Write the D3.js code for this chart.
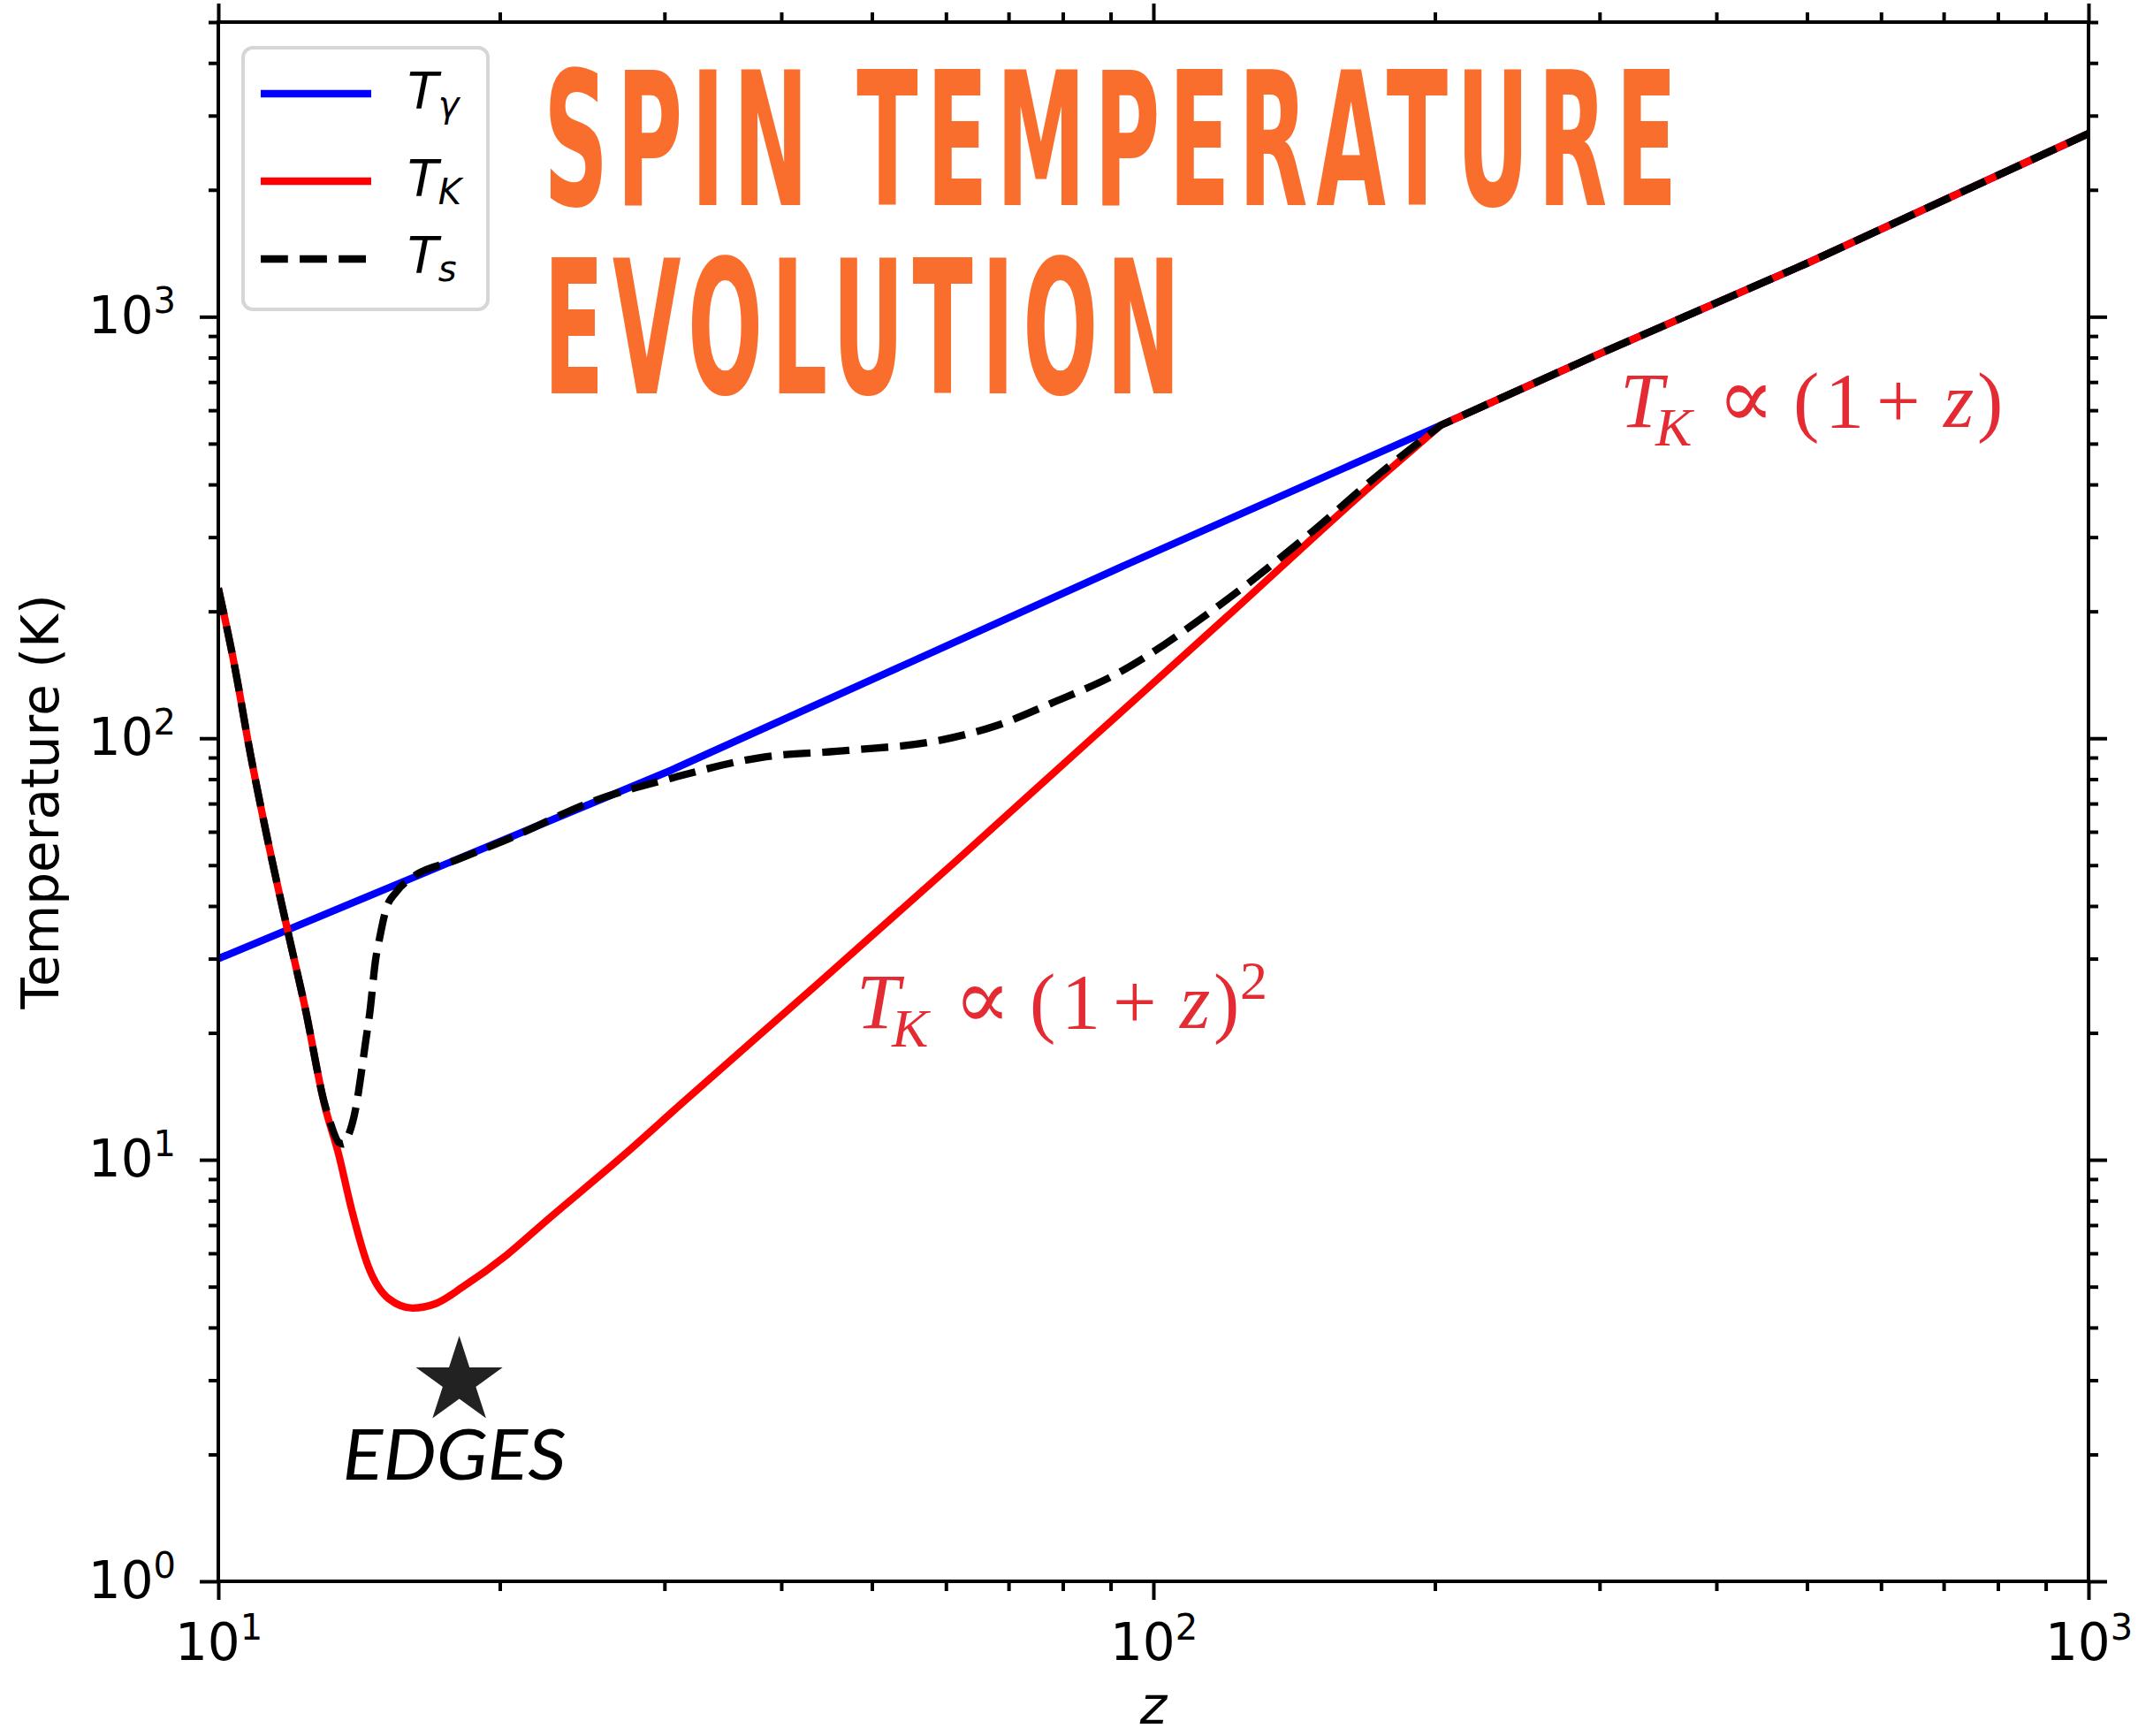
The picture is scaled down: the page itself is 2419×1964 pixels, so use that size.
<!DOCTYPE html>
<html lang="en">
<head>
<meta charset="UTF-8">
<script src="https://d3js.org/d3.v7.min.js"></script>
<style>
  body { margin: 0; background: #fff; }
  svg { display: block; }
</style>
</head>
<body>
<script>
  // values (z, temperature in K)
  const zGamma = [10, 30.5, 94.6, 203, 300, 500, 1000];
  const tGamma = [30, 84, 261, 553, 817, 1339, 2720];

  const zKin = [10, 10.4, 10.82, 11.3, 11.85, 12.38, 12.99, 13.45, 13.87, 14.47, 15.22, 16.13,
    17.09, 18.25, 20.35, 22.4, 27.2, 31.3, 43.8, 61.3, 85.7, 119.9, 167.7, 203, 300, 500, 1000];
  const tKin = [227, 150, 92, 57, 35.3, 23, 13.5, 10.3, 7.7, 5.58, 4.68, 4.45,
    4.56, 4.99, 5.95, 7.15, 10.3, 13.6, 26.2, 50.8, 99.4, 194.5, 383, 553, 817, 1339, 2720];

  const zSpin = [10, 10.4, 10.82, 11.3, 11.85, 12.38, 12.99, 13.2, 13.45, 13.6, 13.77, 14.05,
    14.21, 14.37, 14.52, 14.73, 14.89, 15.11, 15.5, 16.13, 18, 20.35, 25.3, 30.5, 38, 47.2,
    58.7, 67.8, 78.4, 90.7, 117.7, 146.3, 175.4, 203, 300, 500, 1000];
  const tSpin = [227, 150, 92, 57, 35.3, 23, 13.6, 12.1, 11.0, 10.9, 11.4, 13.5,
    15.9, 19.0, 22.3, 29.8, 33.9, 39.2, 43.2, 46.8, 51.5, 57.5, 71.2, 80.4, 90, 93.6,
    98.6, 107, 122, 141, 207, 303, 428, 553, 817, 1339, 2720];

  // redshift where T_K rejoins T_gamma
  const zJoin = 203;

  // EDGES point
  const edgesZ = 18.1;
  const edgesT = 2.98;

  const seriesSubs = ["γ", "K", "s"];
  const seriesColors = ["#0000ff", "#ff0000", "#000000"];

  const xMajor = [10, 100, 1000];
  const xMinor = [20, 30, 40, 50, 60, 70, 80, 90, 200, 300, 400, 500, 600, 700, 800, 900];
  const yMajor = [1, 10, 100, 1000];
  const yMinor = [2, 3, 4, 5, 6, 7, 8, 9, 20, 30, 40, 50, 60, 70, 80, 90,
    200, 300, 400, 500, 600, 700, 800, 900, 2000, 3000, 4000, 5000];

  const titleLines = ["SPIN TEMPERATURE", "EVOLUTION"];

  const W = 2419, H = 1964;
  const plot = { left: 247, right: 2363, top: 25, bottom: 1789 };
  const sans = "DejaVu Sans, Verdana, sans-serif";
  const serif = "Liberation Serif, DejaVu Serif, serif";
  const annoRed = "#e42a32";

  const svg = d3.select("body").append("svg")
    .attr("width", W).attr("height", H)
    .style("background", "#fff");

  const x = d3.scaleLog().domain([10, 1000]).range([plot.left, plot.right]);
  const y = d3.scaleLog().domain([1, 5000]).range([plot.bottom, plot.top]);

  svg.append("clipPath").attr("id", "clip")
    .append("rect")
    .attr("x", plot.left).attr("y", plot.top)
    .attr("width", plot.right - plot.left).attr("height", plot.bottom - plot.top);

  // curves: smooth below the join, straight above it (keeps the kink sharp)
  const line = d3.line().x(d => x(d[0])).y(d => y(d[1]));
  const curvy = d3.line().x(d => x(d[0])).y(d => y(d[1])).curve(d3.curveMonotoneX);
  function joinedPath(zs, ts) {
    const pts = d3.zip(zs, ts);
    const pre = pts.filter(d => d[0] <= zJoin);
    const post = pts.filter(d => d[0] >= zJoin);
    return curvy(pre) + line(post).replace(/^M[^L]*/, "");
  }

  const lines = svg.append("g").attr("clip-path", "url(#clip)").attr("fill", "none");

  lines.append("path")
    .attr("d", line(d3.zip(zGamma, tGamma)))
    .attr("stroke", seriesColors[0]).attr("stroke-width", 8.3);

  lines.append("path")
    .attr("d", joinedPath(zKin, tKin))
    .attr("stroke", seriesColors[1]).attr("stroke-width", 8.3);

  lines.append("path")
    .attr("d", joinedPath(zSpin, tSpin))
    .attr("stroke", seriesColors[2]).attr("stroke-width", 8.3)
    .attr("stroke-dasharray", "30.8 13.3");

  // axes
  function styleAxis(g) {
    g.attr("font-family", sans).attr("font-size", 58);
    g.select(".domain").remove();
    g.selectAll(".tick line").attr("stroke", "#000").attr("stroke-width", 4);
    g.selectAll(".tick text").attr("fill", "#000");
  }
  function powLabels(g) {
    g.selectAll(".tick text").each(function (d) {
      const t = d3.select(this);
      t.text(null);
      t.append("tspan").text("10");
      t.append("tspan").attr("font-size", 40).attr("dy", -23)
        .text(Math.round(Math.log10(d)));
    });
  }
  const blank = () => "";

  svg.append("g").attr("transform", `translate(0,${plot.bottom})`)
    .call(d3.axisBottom(x).tickValues(xMajor).tickSize(21).tickPadding(27).tickSizeOuter(0))
    .call(styleAxis).call(powLabels);
  svg.append("g").attr("transform", `translate(0,${plot.bottom})`)
    .call(d3.axisBottom(x).tickValues(xMinor).tickSize(11).tickFormat(blank).tickSizeOuter(0))
    .call(styleAxis);
  svg.append("g").attr("transform", `translate(0,${plot.top})`)
    .call(d3.axisTop(x).tickValues(xMajor).tickSize(21).tickFormat(blank).tickSizeOuter(0))
    .call(styleAxis);
  svg.append("g").attr("transform", `translate(0,${plot.top})`)
    .call(d3.axisTop(x).tickValues(xMinor).tickSize(11).tickFormat(blank).tickSizeOuter(0))
    .call(styleAxis);

  svg.append("g").attr("transform", `translate(${plot.left},0)`)
    .call(d3.axisLeft(y).tickValues(yMajor).tickSize(21).tickPadding(27).tickSizeOuter(0))
    .call(styleAxis).call(powLabels);
  svg.append("g").attr("transform", `translate(${plot.left},0)`)
    .call(d3.axisLeft(y).tickValues(yMinor).tickSize(11).tickFormat(blank).tickSizeOuter(0))
    .call(styleAxis);
  svg.append("g").attr("transform", `translate(${plot.right},0)`)
    .call(d3.axisRight(y).tickValues(yMajor).tickSize(21).tickFormat(blank).tickSizeOuter(0))
    .call(styleAxis);
  svg.append("g").attr("transform", `translate(${plot.right},0)`)
    .call(d3.axisRight(y).tickValues(yMinor).tickSize(11).tickFormat(blank).tickSizeOuter(0))
    .call(styleAxis);

  // spines
  svg.append("rect")
    .attr("x", plot.left).attr("y", plot.top)
    .attr("width", plot.right - plot.left).attr("height", plot.bottom - plot.top)
    .attr("fill", "none").attr("stroke", "#000").attr("stroke-width", 4);

  // axis labels
  svg.append("text")
    .attr("transform", `translate(66,${(plot.top + plot.bottom) / 2}) rotate(-90)`)
    .attr("text-anchor", "middle")
    .attr("font-family", sans).attr("font-size", 58)
    .text("Temperature (K)");

  svg.append("text")
    .attr("x", (plot.left + plot.right) / 2).attr("y", 1950)
    .attr("text-anchor", "middle")
    .attr("font-family", sans).attr("font-size", 58).attr("font-style", "italic")
    .text("z");

  // legend
  const legend = svg.append("g");
  legend.append("rect")
    .attr("x", 275).attr("y", 54).attr("width", 277).attr("height", 296)
    .attr("rx", 11)
    .attr("fill", "#fff").attr("fill-opacity", 0.8)
    .attr("stroke", "#d6d6d6").attr("stroke-width", 4);
  const rowY = [106, 205, 293];
  const rowBase = [123, 222, 309];
  seriesSubs.forEach((s, i) => {
    legend.append("line")
      .attr("x1", 295).attr("x2", 420).attr("y1", rowY[i]).attr("y2", rowY[i])
      .attr("stroke", seriesColors[i]).attr("stroke-width", 8.3)
      .attr("stroke-dasharray", i === 2 ? "30.8 13.3" : null);
    const t = legend.append("text")
      .attr("x", 461).attr("y", rowBase[i])
      .attr("font-family", sans).attr("font-style", "italic").attr("font-size", 57);
    t.append("tspan").text("T");
    t.append("tspan").attr("font-size", 40).attr("dy", 9).text(s);
  });

  // formula annotations
  function formula(x0, base, squared) {
    const t = svg.append("text")
      .attr("y", base)
      .attr("font-family", serif).attr("font-size", 88).attr("fill", annoRed);
    t.append("tspan").attr("x", x0).attr("font-style", "italic").text("T");
    t.append("tspan").attr("x", x0 + 40).attr("dy", 21).attr("font-size", 62)
      .attr("font-style", "italic").text("K");
    t.append("tspan").attr("x", x0 + 110).attr("dy", -21).attr("font-size", 96).text("∝");
    t.append("tspan").attr("x", x0 + 196).text("(");
    t.append("tspan").attr("x", x0 + 232).text("1");
    t.append("tspan").attr("x", x0 + 290).text("+");
    t.append("tspan").attr("x", x0 + 366).attr("font-style", "italic").text("z");
    t.append("tspan").attr("x", x0 + 404).text(")");
    if (squared) {
      t.append("tspan").attr("x", x0 + 434).attr("dy", -33).attr("font-size", 62).text("2");
    }
  }
  formula(1833, 483, false);
  formula(969, 1163, true);

  // EDGES star
  const sx = x(edgesZ), sy = y(edgesT);
  svg.append("path")
    .attr("transform", `translate(${sx},${sy})`)
    .attr("d", d3.symbol(d3.symbolStar).size(2990)())
    .attr("fill", "#222");
  svg.append("text")
    .attr("x", sx - 132).attr("y", sy + 111)
    .attr("font-family", "Lato, Open Sans, sans-serif").attr("font-style", "italic")
    .attr("font-size", 80).attr("fill", "#000")
    .attr("textLength", 253).attr("lengthAdjust", "spacingAndGlyphs")
    .text("EDGES");

  // title (textLength includes the trailing letter-spacing)
  const titleBase = [232, 445];
  const titleLen = [1292, 730];
  titleLines.forEach((s, i) => {
    svg.append("text")
      .attr("x", 615).attr("y", titleBase[i])
      .attr("font-family", "DejaVu Sans Condensed, DejaVu Sans, sans-serif")
      .attr("font-weight", "bold").attr("font-size", 210)
      .attr("letter-spacing", 18)
      .attr("fill", "#f96d2d")
      .attr("textLength", titleLen[i]).attr("lengthAdjust", "spacingAndGlyphs")
      .text(s);
  });
</script>
</body>
</html>
